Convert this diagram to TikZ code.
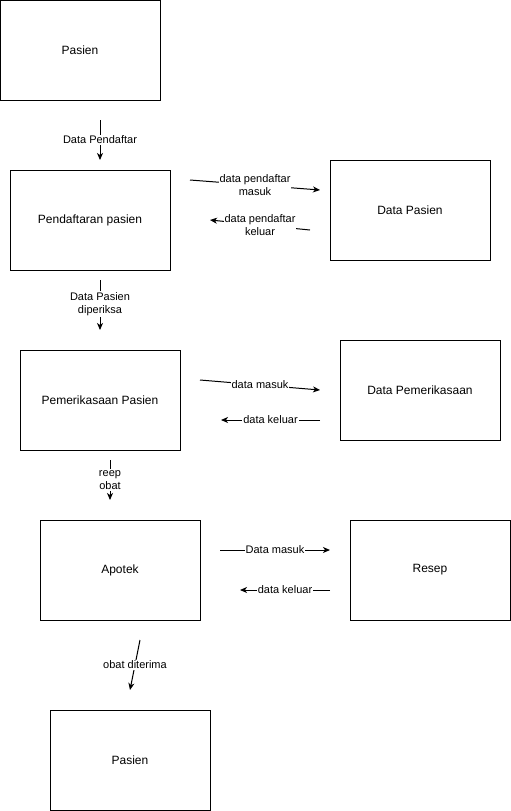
\documentclass[tikz,border=0pt]{standalone}
\usepackage{fontspec}
\setmainfont{Liberation Sans}
\usetikzlibrary{arrows.meta}
\begin{document}
\begin{tikzpicture}[x=1pt,y=-1pt,
  box/.style={draw,line width=1pt,minimum width=160pt,minimum height=100pt,inner sep=0pt,font=\fontsize{12}{14}\selectfont},
  flow/.style={line width=1pt,-{Stealth[length=7pt,width=6pt,inset=2pt]}},
  lbl/.style={fill=white,inner sep=1pt,align=center,font=\fontsize{11}{13}\selectfont}]
\useasboundingbox (0,0) rectangle (511,811);
\node[box] (pasien1) at (80,50) {Pasien};
\node[box] (daftar) at (90,220) {Pendaftaran pasien};
\node[box] (dpasien) at (410,210) {Data Pasien};
\node[box] (periksa) at (100,400) {Pemerikasaan Pasien};
\node[box] (dperiksa) at (420,390) {Data Pemerikasaan};
\node[box] (apotek) at (120,570) {Apotek};
\node[box] (resep) at (430,570) {Resep};
\node[box] (pasien2) at (130,760) {Pasien};
% free ends
\coordinate (a1) at (100,120); \coordinate (a2) at (100,160);
\coordinate (b1) at (190,180); \coordinate (b2) at (320,190);
\coordinate (c1) at (310,230); \coordinate (c2) at (210,220);
\coordinate (d1) at (100,280); \coordinate (d2) at (100,330);
\coordinate (e1) at (200,380); \coordinate (e2) at (320,390);
\coordinate (f1) at (320,420); \coordinate (f2) at (221,420);
\coordinate (g1) at (110,460); \coordinate (g2) at (110,500);
\coordinate (h1) at (220,550); \coordinate (h2) at (330,550);
\coordinate (i1) at (330,590); \coordinate (i2) at (240,590);
\coordinate (j1) at (140,640); \coordinate (j2) at (130,690);
\draw[flow] (a1) -- node[lbl] {Data Pendaftar} (a2);
\draw[flow] (b1) -- node[lbl] {data pendaftar\\masuk} (b2);
\draw[flow] (c1) -- node[lbl] {data pendaftar\\keluar} (c2);
\draw[flow] (d1) -- node[lbl,pos=0.48] {Data Pasien\\diperiksa} (d2);
\draw[flow] (e1) -- node[lbl] {data masuk} (e2);
\draw[flow] (f1) -- node[lbl] {data keluar} (f2);
\draw[flow] (g1) -- node[lbl] {reep\\obat} (g2);
\draw[flow] (h1) -- node[lbl] {Data masuk} (h2);
\draw[flow] (i1) -- node[lbl] {data keluar} (i2);
\draw[flow] (j1) -- node[lbl] {obat diterima} (j2);
\end{tikzpicture}
\end{document}
